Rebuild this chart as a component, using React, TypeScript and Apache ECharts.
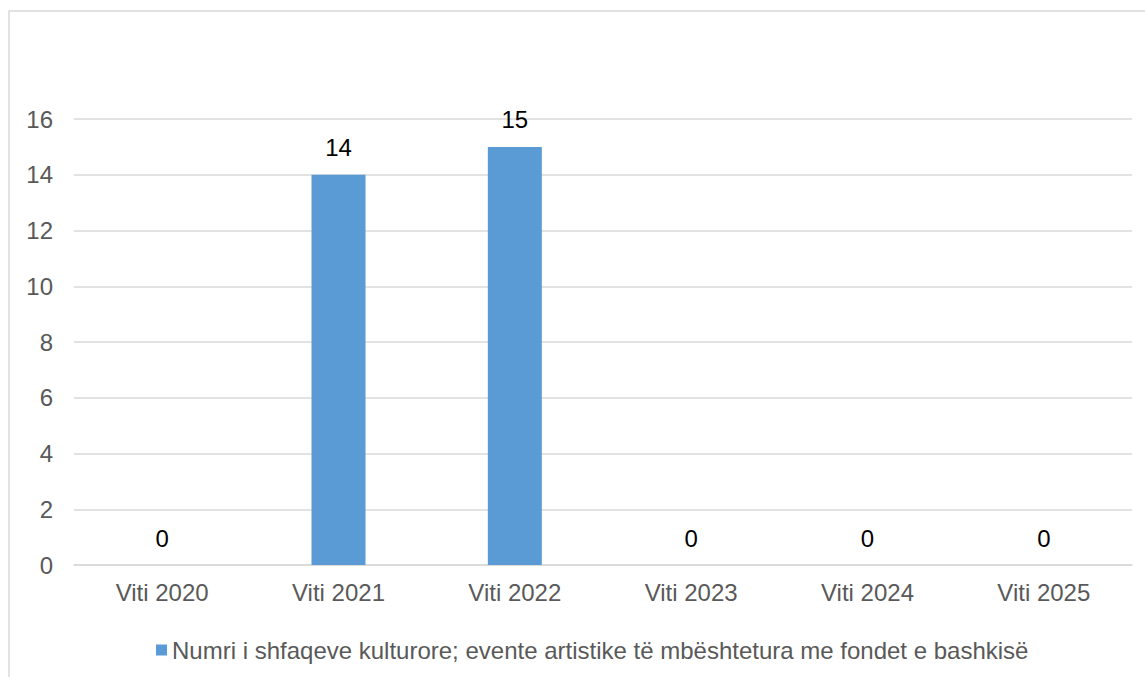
import React, { useEffect, useRef } from "react";
import * as echarts from "echarts";

const categories = ["Viti 2020", "Viti 2021", "Viti 2022", "Viti 2023", "Viti 2024", "Viti 2025"];
const seriesName = "Numri i shfaqeve kulturore; evente artistike të mbështetura me fondet e bashkisë";
const values = [0, 14, 15, 0, 0, 0];
const yMin = 0;
const yMax = 16;
const yInterval = 2;

const FONT = "'Liberation Sans', Arial, Helvetica, sans-serif";

export default function App() {
  const ref = useRef<HTMLDivElement>(null);
  useEffect(() => {
    if (!ref.current) return;
    const chart = echarts.init(ref.current, undefined, { renderer: "svg" });
    chart.setOption({
      animation: false,
      backgroundColor: "#ffffff",
      textStyle: { fontFamily: FONT },
      graphic: [
        {
          type: "rect",
          shape: { x: 9, y: 11, width: 1300, height: 800 },
          style: { fill: "none", stroke: "#D9D9D9", lineWidth: 1.5 },
          silent: true,
          z: -1,
        },
      ],
      grid: { left: 74, right: 13, top: 119, bottom: 112, containLabel: false },
      legend: {
        show: true,
        left: 151,
        top: 633,
        icon: "rect",
        itemWidth: 11,
        itemHeight: 11,
        itemGap: 6,
        textStyle: { fontSize: 24, color: "#595959", fontFamily: FONT },
        data: [seriesName],
      },
      xAxis: {
        type: "category",
        data: categories,
        axisLine: { show: true, lineStyle: { color: "#D9D9D9", width: 1.5 } },
        axisTick: { show: false },
        axisLabel: { color: "#595959", fontSize: 24, margin: 15, fontFamily: FONT },
        splitLine: { show: false },
      },
      yAxis: {
        type: "value",
        min: yMin,
        max: yMax,
        interval: yInterval,
        axisLine: { show: false },
        axisTick: { show: false },
        axisLabel: { color: "#595959", fontSize: 24, margin: 21, fontFamily: FONT },
        splitLine: { show: true, lineStyle: { color: "#D9D9D9", width: 1.5 } },
      },
      series: [
        {
          name: seriesName,
          type: "bar",
          data: values,
          barWidth: 54,
          itemStyle: { color: "#5B9BD5" },
          label: {
            show: true,
            position: "top",
            distance: 15,
            color: "#000000",
            fontSize: 24,
            fontFamily: FONT,
          },
        },
      ],
    });
    return () => chart.dispose();
  }, []);
  return (
    <div
      ref={ref}
      style={{ position: "absolute", left: 0, top: 0, width: 1145, height: 677 }}
    />
  );
}
